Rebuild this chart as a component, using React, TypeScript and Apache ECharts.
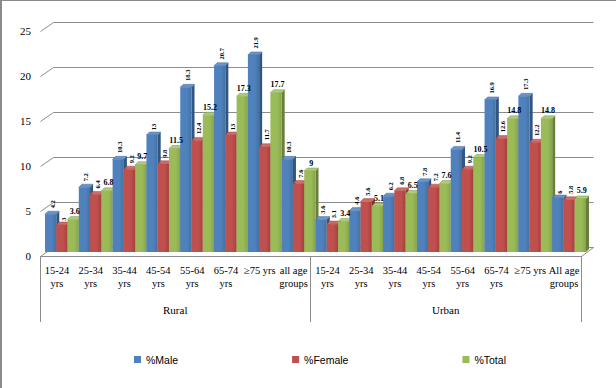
import React, { useEffect, useRef } from "react";
import * as echarts from "echarts";

const categories = [
  "15-24\nyrs", "25-34\nyrs", "35-44\nyrs", "45-54\nyrs", "55-64\nyrs", "65-74\nyrs", "≥75 yrs", "all age\ngroups",
  "15-24\nyrs", "25-34\nyrs", "35-44\nyrs", "45-54\nyrs", "55-64\nyrs", "65-74\nyrs", "≥75 yrs", "All age\ngroups",
];
const groups = ["Rural", "Urban"];
const seriesNames = ["%Male", "%Female", "%Total"];
const male = [4.2, 7.2, 10.3, 13, 18.3, 20.7, 21.9, 10.3, 3.6, 4.6, 6.2, 7.8, 11.4, 16.9, 17.3, 6];
const female = [3, 6.4, 9.2, 9.8, 12.4, 13, 11.7, 7.6, 3.1, 5.6, 6.8, 7.2, 9.2, 12.6, 12.2, 5.8];
const total = [3.6, 6.8, 9.7, 11.5, 15.2, 17.3, 17.7, 9, 3.4, 5.1, 6.5, 7.6, 10.5, 14.8, 14.8, 5.9];
const yTicks = [0, 5, 10, 15, 20, 25];

const SERIF = "'Liberation Serif', 'Times New Roman', 'DejaVu Serif', serif";
const SANS = "'Liberation Sans', Arial, sans-serif";

const FRONT = ["#4F81BD", "#C0504D", "#9BBB59"];
const FRONT_DARK = ["#44719F", "#A6403D", "#86A34A"];
const SIDE = ["#2F5583", "#833331", "#687F39"];
const TOP = ["#6A95CC", "#D06C69", "#B0CC77"];

export default function App() {
  const ref = useRef<HTMLDivElement>(null);
  useEffect(() => {
    if (!ref.current) return;
    const chart = echarts.init(ref.current, undefined, { renderer: "svg" });
    const barData = categories.map((_, i) => [i, male[i], female[i], total[i]]);
    const gridData = yTicks.map((v) => [0, v]);
    const WALL_DX = 13;
    const WALL_DY = 9;
    const SHIFT_X = 5;
    const SHIFT_Y = 4;
    const DX = 3;
    const DY = 3;

    const option: any = {
      animation: false,
      backgroundColor: "#ffffff",
      graphic: [
        { type: "rect", shape: { x: 0, y: 0, width: 2, height: 388 }, style: { fill: "#8a8a8a" }, silent: true },
        { type: "rect", shape: { x: 0, y: 0, width: 616, height: 1 }, style: { fill: "#8a8a8a" }, silent: true },
      ],
      grid: { left: 40, right: 35, top: 31, bottom: 132, containLabel: false },
      legend: {
        data: seriesNames,
        top: 349,
        left: 129,
        itemWidth: 7,
        itemHeight: 7,
        itemGap: 114,
        icon: "rect",
        textStyle: { fontFamily: SANS, fontSize: 10.5, color: "#000" },
      },
      xAxis: [
        {
          type: "category",
          data: categories,
          position: "bottom",
          axisLine: { show: false },
          axisTick: { show: false },
          axisLabel: {
            interval: 0,
            margin: 8,
            fontFamily: SERIF,
            fontSize: 10.5,
            lineHeight: 13,
            color: "#000",
          },
        },
        {
          type: "category",
          data: groups,
          position: "bottom",
          axisLine: { show: false },
          axisTick: { show: true, length: 66, lineStyle: { color: "#8c8c8c" } },
          axisLabel: {
            margin: 48,
            fontFamily: SERIF,
            fontSize: 11,
            color: "#000",
          },
        },
      ],
      yAxis: {
        type: "value",
        min: 0,
        max: 25,
        interval: 5,
        axisLine: { show: false },
        axisTick: { show: false },
        splitLine: { show: false },
        axisLabel: { margin: 9, fontFamily: SERIF, fontSize: 11, color: "#000" },
      },
      series: [
        {
          type: "custom",
          name: "grid3d",
          z: 1,
          silent: true,
          clip: false,
          data: gridData,
          encode: { x: 0, y: 1 },
          renderItem: (params: any, api: any) => {
            const v = api.value(1);
            const band = api.size([1, 0])[0];
            const p = api.coord([0, v]);
            const q = api.coord([categories.length - 1, v]);
            const xl = Math.round(p[0] - band / 2) + 0.5;
            const xr = Math.round(q[0] + band / 2) + 0.5;
            const y = Math.round(p[1]) + 0.5;
            const style = { stroke: "#8c8c8c", lineWidth: 1, fill: null };
            const children: any[] = [
              {
                type: "polyline",
                shape: { points: [[xl, y], [xl + WALL_DX, y - WALL_DY], [xr + WALL_DX - 1, y - WALL_DY]] },
                style,
              },
            ];
            if (v === 0) {
              children.push({
                type: "polyline",
                shape: { points: [[xl, y], [xr, y], [xr + WALL_DX - 1, y - WALL_DY]] },
                style,
              });
            }
            return { type: "group", children };
          },
        },
        {
          type: "custom",
          name: "bars3d",
          z: 2,
          silent: true,
          clip: false,
          data: barData,
          encode: { x: 0, y: [1, 2, 3] },
          renderItem: (params: any, api: any) => {
            const i = api.value(0);
            const vals = [api.value(1), api.value(2), api.value(3)];
            const band = api.size([1, 0])[0];
            const base = api.coord([i, 0]);
            const w = band / 3;
            const left0 = base[0] - band / 2 + SHIFT_X;
            const bottom = base[1] - SHIFT_Y;
            const children: any[] = [];
            for (let k = 0; k < 3; k++) {
              const top = api.coord([i, vals[k]])[1] - SHIFT_Y;
              const x0 = left0 + k * w;
              const x1 = x0 + w;
              children.push({
                type: "polygon",
                shape: { points: [[x1, top], [x1 + DX, top - DY], [x1 + DX, bottom - DY], [x1, bottom]] },
                style: { fill: SIDE[k] },
              });
              children.push({
                type: "polygon",
                shape: { points: [[x0, top], [x1, top], [x1 + DX, top - DY], [x0 + DX, top - DY]] },
                style: { fill: TOP[k], stroke: SIDE[k], lineWidth: 0.4 },
              });
              children.push({
                type: "rect",
                shape: { x: x0, y: top, width: w, height: bottom - top },
                style: {
                  fill: new echarts.graphic.LinearGradient(0, 0, 1, 0, [
                    { offset: 0, color: FRONT[k] },
                    { offset: 0.6, color: FRONT[k] },
                    { offset: 1, color: FRONT_DARK[k] },
                  ]),
                },
              });
              const label = String(vals[k]);
              if (k === 2) {
                children.push({
                  type: "text",
                  z2: 20,
                  x: x0 + w / 2 + 1.5,
                  y: top - 8,
                  style: {
                    text: label,
                    x: 0,
                    y: 0,
                    align: "center",
                    verticalAlign: "middle",
                    fontFamily: SERIF,
                    fontWeight: "bold",
                    fontSize: 8,
                    fill: "#000",
                  },
                });
              } else {
                children.push({
                  type: "text",
                  z2: 20,
                  x: x0 + w / 2 + 1.5,
                  y: top - 4 - label.length * 2,
                  rotation: Math.PI / 2,
                  style: {
                    text: label,
                    x: 0,
                    y: 0,
                    align: "center",
                    verticalAlign: "middle",
                    fontFamily: SERIF,
                    fontWeight: "bold",
                    fontSize: 6.5,
                    fill: "#000",
                  },
                });
              }
            }
            return { type: "group", children };
          },
        },
        ...seriesNames.map((name, k) => ({
          type: "bar",
          name,
          data: [],
          itemStyle: { color: FRONT[k] },
        })),
      ],
    };
    chart.setOption(option);
    return () => chart.dispose();
  }, []);
  return (
    <div
      ref={ref}
      style={{ position: "absolute", left: 0, top: 0, width: 616, height: 388 }}
    />
  );
}
